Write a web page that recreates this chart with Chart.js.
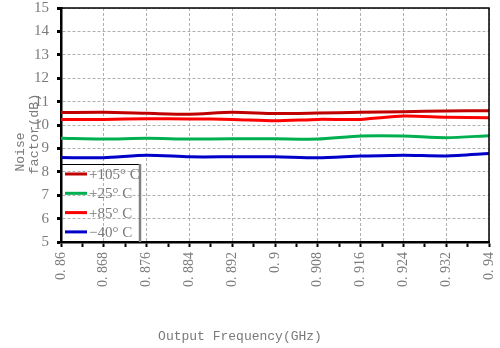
<!DOCTYPE html>
<html>
<head>
<meta charset="utf-8">
<script src="https://cdn.jsdelivr.net/npm/chart.js@4/dist/chart.umd.min.js"></script>
<style>
  html, body { margin: 0; padding: 0; background: #fff; }
  #wrap { width: 500px; height: 348px; }
</style>
</head>
<body>
<div id="wrap"><canvas id="c" width="500" height="348"></canvas></div>
<script>
// Output frequency points (GHz) and their axis labels
const freqs = [0.86, 0.868, 0.876, 0.884, 0.892, 0.9, 0.908, 0.916, 0.924, 0.932, 0.94];
const freqLabels = ['0. 86', '0. 868', '0. 876', '0. 884', '0. 892', '0. 9', '0. 908', '0. 916', '0. 924', '0. 932', '0. 94'];
const yTickValues = [5, 6, 7, 8, 9, 10, 11, 12, 13, 14, 15];

// Noise factor (dB) per temperature
const nf105 = [10.53, 10.54, 10.50, 10.46, 10.54, 10.49, 10.51, 10.54, 10.57, 10.60, 10.61];
const nf25  = [9.43, 9.40, 9.43, 9.40, 9.41, 9.41, 9.40, 9.53, 9.53, 9.46, 9.54];
const nf85  = [10.24, 10.24, 10.27, 10.26, 10.24, 10.18, 10.24, 10.24, 10.38, 10.33, 10.31];
const nfM40 = [8.61, 8.60, 8.71, 8.64, 8.64, 8.64, 8.60, 8.67, 8.71, 8.68, 8.78];

const seriesNames = ['+105° C', '+25° C', '+85° C', '\u221240° C'];
const seriesColors = ['#c00000', '#00b050', '#ff0000', '#0000c8'];
const seriesData = [nf105, nf25, nf85, nfM40];

const toPoints = arr => arr.map((v, i) => ({ x: freqs[i], y: v }));

const datasets = seriesData.map((arr, i) => ({
  label: seriesNames[i],
  data: toPoints(arr),
  borderColor: seriesColors[i],
  backgroundColor: seriesColors[i],
  borderWidth: 3,
  pointRadius: 0,
  tension: 0.25,
  fill: false
}));

const SERIF = '"Liberation Serif", "DejaVu Serif", serif';
const MONO = '"Liberation Mono", "DejaVu Sans Mono", monospace';
const GREY = '#7a7a7a';
const GRID = '#b0b0b0';

const isMajorX = v => freqs.some(f => Math.abs(f - v) < 1e-9);
const isMajorY = v => Math.abs(v - Math.round(v)) < 1e-9;

// Frame, axis titles and the in-plot legend
const decorations = {
  id: 'decorations',
  afterDraw(chart) {
    const { ctx, chartArea: a } = chart;
    ctx.save();
    // top and right frame
    ctx.strokeStyle = '#000';
    ctx.lineWidth = 1.5;
    ctx.beginPath();
    ctx.moveTo(a.left, a.top);
    ctx.lineTo(a.right, a.top);
    ctx.lineTo(a.right, a.bottom);
    ctx.stroke();

    // legend box
    const bx = a.left, by = 164, bw = 79;
    ctx.lineWidth = 1;
    ctx.strokeStyle = '#000';
    ctx.beginPath();
    ctx.moveTo(bx, by + 0.5);
    ctx.lineTo(bx + bw, by + 0.5);
    ctx.stroke();
    ctx.strokeStyle = '#808080';
    ctx.lineWidth = 2.5;
    ctx.beginPath();
    ctx.moveTo(bx + bw, by);
    ctx.lineTo(bx + bw, a.bottom);
    ctx.stroke();

    ctx.font = '15px ' + SERIF;
    ctx.textBaseline = 'middle';
    ctx.textAlign = 'left';
    chart.data.datasets.forEach((ds, i) => {
      const ry = 174 + i * 19.3;
      ctx.strokeStyle = ds.borderColor;
      ctx.lineWidth = 3;
      ctx.beginPath();
      ctx.moveTo(bx + 4, ry);
      ctx.lineTo(bx + 26, ry);
      ctx.stroke();
      ctx.fillStyle = GREY;
      ctx.fillText(ds.label, bx + 28, ry + 1);
    });

    // axis titles
    ctx.fillStyle = GREY;
    ctx.font = '13px ' + MONO;
    ctx.textAlign = 'center';
    ctx.textBaseline = 'middle';
    ctx.fillText('Output Frequency(GHz)', 240, 337);

    ctx.save();
    ctx.translate(21, 152);
    ctx.rotate(-Math.PI / 2);
    ctx.fillText('Noise', 0, 0);
    ctx.restore();
    ctx.save();
    ctx.translate(34, 134);
    ctx.rotate(-Math.PI / 2);
    ctx.font = '13.5px ' + MONO;
    ctx.fillText('factor(dB)', 0, 0);
    ctx.restore();

    ctx.restore();
  }
};

new Chart(document.getElementById('c'), {
  type: 'line',
  data: { datasets },
  options: {
    responsive: false,
    animation: false,
    devicePixelRatio: 1,
    layout: { padding: { top: 8, right: 11, left: 0, bottom: 0 } },
    plugins: {
      legend: { display: false },
      tooltip: { enabled: false }
    },
    scales: {
      x: {
        type: 'linear',
        min: 0.86,
        max: 0.94,
        afterBuildTicks(scale) {
          const t = [];
          for (let i = 0; i < freqs.length; i++) {
            t.push({ value: freqs[i] });
            if (i < freqs.length - 1) t.push({ value: (freqs[i] + freqs[i + 1]) / 2 });
          }
          scale.ticks = t;
        },
        afterFit(scale) {
          scale.height = 106;
          scale.paddingLeft = 0;
          scale.paddingRight = 0;
        },
        ticks: {
          autoSkip: false,
          minRotation: 90,
          maxRotation: 90,
          padding: 5,
          color: GREY,
          font: { family: SERIF, size: 14 },
          callback(value, index) { return index % 2 === 0 ? freqLabels[index / 2] : ''; }
        },
        grid: {
          color: c => (c.tick && isMajorX(c.tick.value) ? GRID : 'rgba(0,0,0,0)'),
          lineWidth: 1,
          tickColor: '#000',
          tickWidth: 2,
          tickLength: 5
        },
        border: { display: true, color: '#000', width: 2.5, dash: [3, 2] }
      },
      y: {
        type: 'linear',
        min: 5,
        max: 15,
        afterBuildTicks(scale) {
          const t = [];
          for (let i = 0; i < yTickValues.length; i++) {
            t.push({ value: yTickValues[i] });
            if (i < yTickValues.length - 1) t.push({ value: yTickValues[i] + 0.5 });
          }
          scale.ticks = t;
        },
        afterFit(scale) {
          scale.width = 61;
          scale.paddingTop = 0;
          scale.paddingBottom = 0;
        },
        ticks: {
          padding: 8,
          color: GREY,
          font: { family: SERIF, size: 15 },
          callback(value, index) { return index % 2 === 0 ? String(yTickValues[index / 2]) : ''; }
        },
        grid: {
          color: c => (c.tick && isMajorY(c.tick.value) ? GRID : 'rgba(0,0,0,0)'),
          lineWidth: 1,
          tickColor: '#000',
          tickWidth: 3,
          tickLength: 4
        },
        border: { display: true, color: '#000', width: 2.5, dash: [3, 2] }
      }
    }
  },
  plugins: [decorations]
});
</script>
</body>
</html>
